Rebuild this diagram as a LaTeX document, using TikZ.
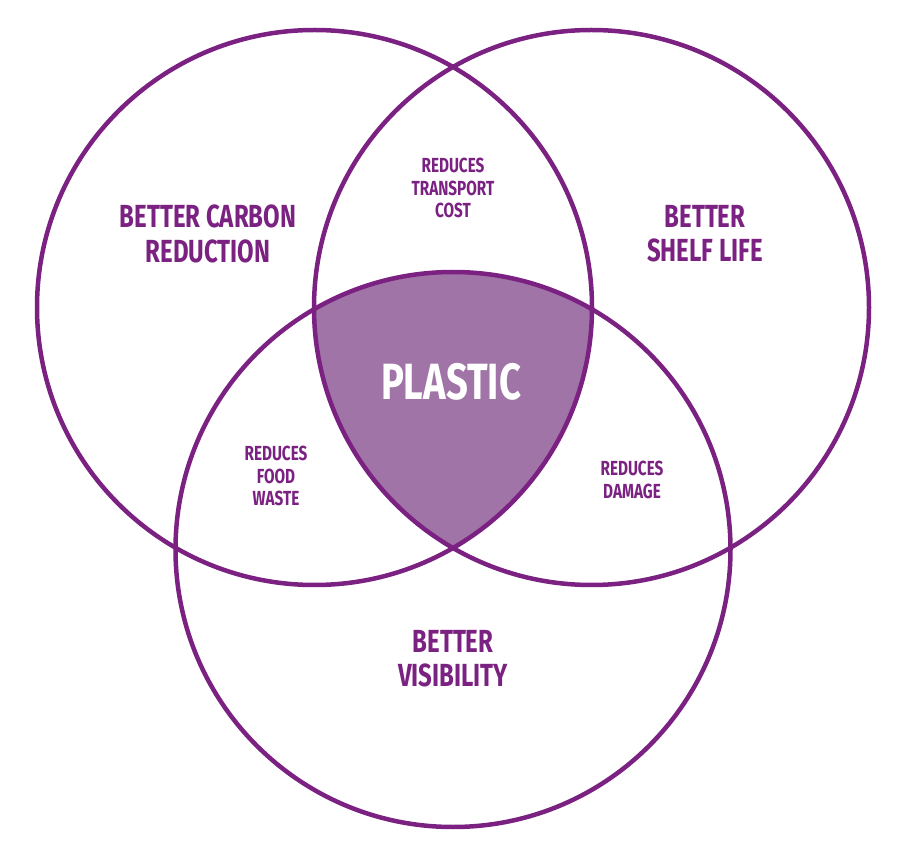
\documentclass[tikz,border=0pt]{standalone}
\usepackage{fontspec}
\newfontfamily\vennfont[FakeStretch=0.75]{Fira Sans}
\definecolor{vennpurple}{HTML}{7A2182}
\definecolor{vennfill}{HTML}{A074A7}
\tikzset{
  venncircle/.style={draw=vennpurple,line width=0.09cm},
  bigtext/.style={text=vennpurple,font=\vennfont\bfseries\fontsize{18.2}{19.5}\selectfont,align=center},
  smalltext/.style={text=vennpurple,font=\vennfont\bfseries\fontsize{11.6}{13}\selectfont,align=center},
  centretext/.style={text=white,font=\vennfont\bfseries\fontsize{29}{32}\selectfont}
}
\begin{document}
\begin{tikzpicture}[x=0.02cm,y=-0.02cm]
\useasboundingbox (0,0) rectangle (907,858);
\coordinate (carbon) at (314.5,307.5);
\coordinate (shelf) at (591.5,307.5);
\coordinate (visibility) at (453,549.5);
\begin{scope}
  \clip (carbon) circle[radius=277.5];
  \clip (shelf) circle[radius=277.5];
  \fill[vennfill] (visibility) circle[radius=277.5];
\end{scope}
\draw[venncircle] (carbon) circle[radius=277.5];
\draw[venncircle] (shelf) circle[radius=277.5];
\draw[venncircle] (visibility) circle[radius=277.5];
\node[bigtext] (carbonlabel) at (208,234) {BETTER CARBON\\REDUCTION};
\node[bigtext] (shelflabel) at (705,234) {BETTER\\SHELF LIFE};
\node[bigtext] (visibilitylabel) at (453,659) {BETTER\\VISIBILITY};
\node[smalltext] (transport) at (453,188) {REDUCES\\TRANSPORT\\COST};
\node[smalltext] (food) at (276,476) {REDUCES\\FOOD\\WASTE};
\node[smalltext] (damage) at (632,480) {REDUCES\\DAMAGE};
\node[centretext] (plastic) at (451,382) {PLASTIC};
\end{tikzpicture}
\end{document}
